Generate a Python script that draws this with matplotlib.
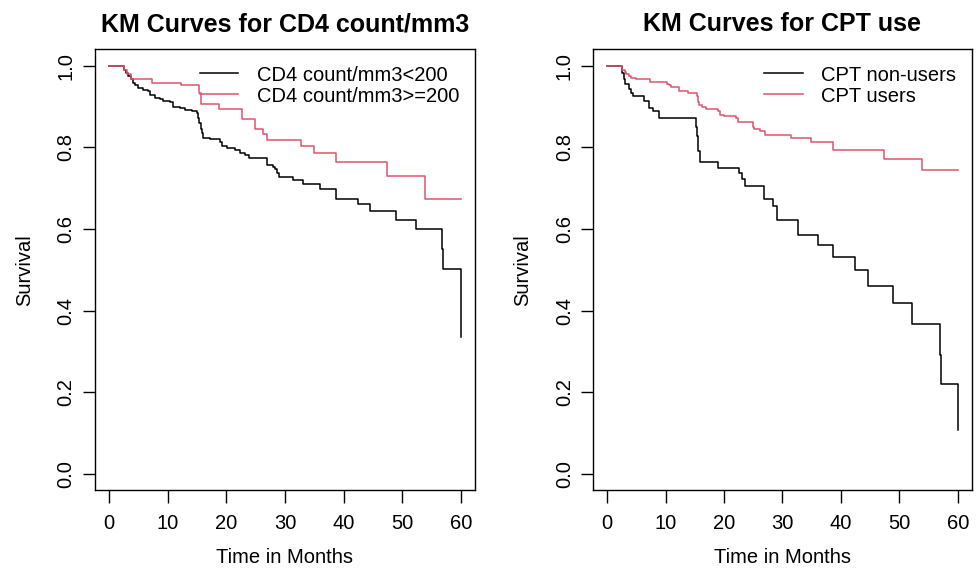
import matplotlib
matplotlib.use("Agg")
import matplotlib.pyplot as plt

plt.rcParams["font.family"] = ["Liberation Sans", "DejaVu Sans"]

RED = "#DF536B"

# CD4 count panel
cd4_low_time = [0, 2.56, 2.90, 3.30, 3.75, 4.15, 4.43, 5.0, 5.86, 6.71, 6.99, 7.85, 8.70,
                9.27, 10.4, 10.86, 12.1, 13.0, 14.1, 14.95, 15.2, 15.4, 15.6, 15.8, 16.0,
                16.1, 17.2, 18.9, 19.2, 20.1, 21.5, 22.3, 23.2, 23.8, 26.9, 28.0, 28.3,
                28.6, 28.9, 31.3, 33.0, 36.0, 38.7, 42.4, 44.5, 48.9, 52.3, 56.8, 57.0, 60.0]
cd4_low_surv = [1.0, 0.990, 0.982, 0.974, 0.968, 0.957, 0.953, 0.945, 0.941, 0.937, 0.929,
                0.922, 0.918, 0.914, 0.910, 0.898, 0.896, 0.892, 0.888, 0.884, 0.873, 0.860,
                0.845, 0.835, 0.828, 0.824, 0.820, 0.814, 0.804, 0.798, 0.794, 0.787, 0.780,
                0.773, 0.757, 0.752, 0.746, 0.738, 0.726, 0.719, 0.709, 0.697, 0.673, 0.660,
                0.643, 0.621, 0.600, 0.551, 0.502, 0.334]

cd4_high_time = [0, 2.56, 3.0, 3.75, 7.39, 12.2, 15.35, 15.7, 18.8, 22.6, 24.9, 26.2, 26.9,
                 32.7, 34.9, 38.7, 47.4, 53.8, 60.0]
cd4_high_surv = [1.0, 0.990, 0.980, 0.967, 0.957, 0.952, 0.933, 0.906, 0.894, 0.869, 0.845,
                 0.832, 0.817, 0.803, 0.786, 0.764, 0.730, 0.673, 0.673]

# CPT panel
cpt_non_time = [0, 2.56, 2.78, 3.0, 3.8, 4.1, 4.4, 6.37, 7.06, 7.9, 8.9, 15.2, 15.4, 15.6,
                15.9, 18.9, 22.6, 23.05, 23.6, 26.8, 28.3, 29.0, 32.7, 36.1, 38.7, 42.4,
                44.6, 49.0, 52.2, 56.9, 57.2, 60.0]
cpt_non_surv = [1.0, 0.982, 0.968, 0.955, 0.944, 0.933, 0.925, 0.914, 0.896, 0.888, 0.873,
                0.851, 0.827, 0.790, 0.763, 0.750, 0.736, 0.723, 0.705, 0.674, 0.656, 0.623,
                0.586, 0.561, 0.532, 0.499, 0.459, 0.419, 0.366, 0.292, 0.220, 0.107]

cpt_use_time = [0, 2.56, 2.95, 3.24, 3.69, 3.98, 4.95, 7.4, 10.24, 10.64, 10.93, 12.35,
                13.77, 15.31, 15.59, 15.76, 16.3, 16.9, 18.9, 19.3, 20.03, 22.03, 22.3,
                24.9, 25.16, 26.1, 26.98, 31.4, 34.8, 38.7, 47.4, 53.8, 60.0]
cpt_use_surv = [1.0, 0.990, 0.985, 0.980, 0.974, 0.970, 0.967, 0.960, 0.956, 0.952, 0.947,
                0.937, 0.933, 0.925, 0.912, 0.904, 0.898, 0.894, 0.888, 0.880, 0.876, 0.871,
                0.863, 0.851, 0.845, 0.839, 0.830, 0.823, 0.813, 0.793, 0.771, 0.744, 0.744]

panels = [
    ("KM Curves for CD4 count/mm3",
     [(cd4_low_time, cd4_low_surv, "black", "CD4 count/mm3<200"),
      (cd4_high_time, cd4_high_surv, RED, "CD4 count/mm3>=200")]),
    ("KM Curves for CPT use",
     [(cpt_non_time, cpt_non_surv, "black", "CPT non-users"),
      (cpt_use_time, cpt_use_surv, RED, "CPT users")]),
]

x_ticks = [0, 10, 20, 30, 40, 50, 60]
y_ticks = [0.0, 0.2, 0.4, 0.6, 0.8, 1.0]

fig = plt.figure(figsize=(9.78, 5.69), dpi=100)
axes_boxes = [[0.0971, 0.1388, 0.3886, 0.7744], [0.6066, 0.1388, 0.3870, 0.7744]]

for box, (title, curves) in zip(axes_boxes, panels):
    ax = fig.add_axes(box)
    for times, surv, color, label in curves:
        ax.plot(times, surv, drawstyle="steps-post", color=color, linewidth=1.1, label=label)
    ax.set_xlim(-2.4, 62.4)
    ax.set_ylim(-0.04, 1.04)
    ax.set_xticks(x_ticks)
    ax.set_xticklabels([str(t) for t in x_ticks])
    ax.set_yticks(y_ticks)
    ax.set_yticklabels([f"{t:.1f}" for t in y_ticks], rotation=90, va="center")
    ax.tick_params(direction="out", length=9, width=1, labelsize=14.5)
    ax.tick_params(axis="x", pad=8)
    ax.tick_params(axis="y", pad=5)
    for spine in ax.spines.values():
        spine.set_linewidth(1)
    ax.set_title(title, fontsize=18, fontweight="bold", pad=13)
    ax.set_xlabel("Time in Months", fontsize=14.5, labelpad=11)
    ax.set_ylabel("Survival", fontsize=14.5, labelpad=16)
    ax.legend(loc="upper right", frameon=False, fontsize=14.5, handlelength=1.9,
              handletextpad=0.9, labelspacing=0.1, borderaxespad=0.4, borderpad=0.4)

fig.savefig("out.png", dpi=100)
